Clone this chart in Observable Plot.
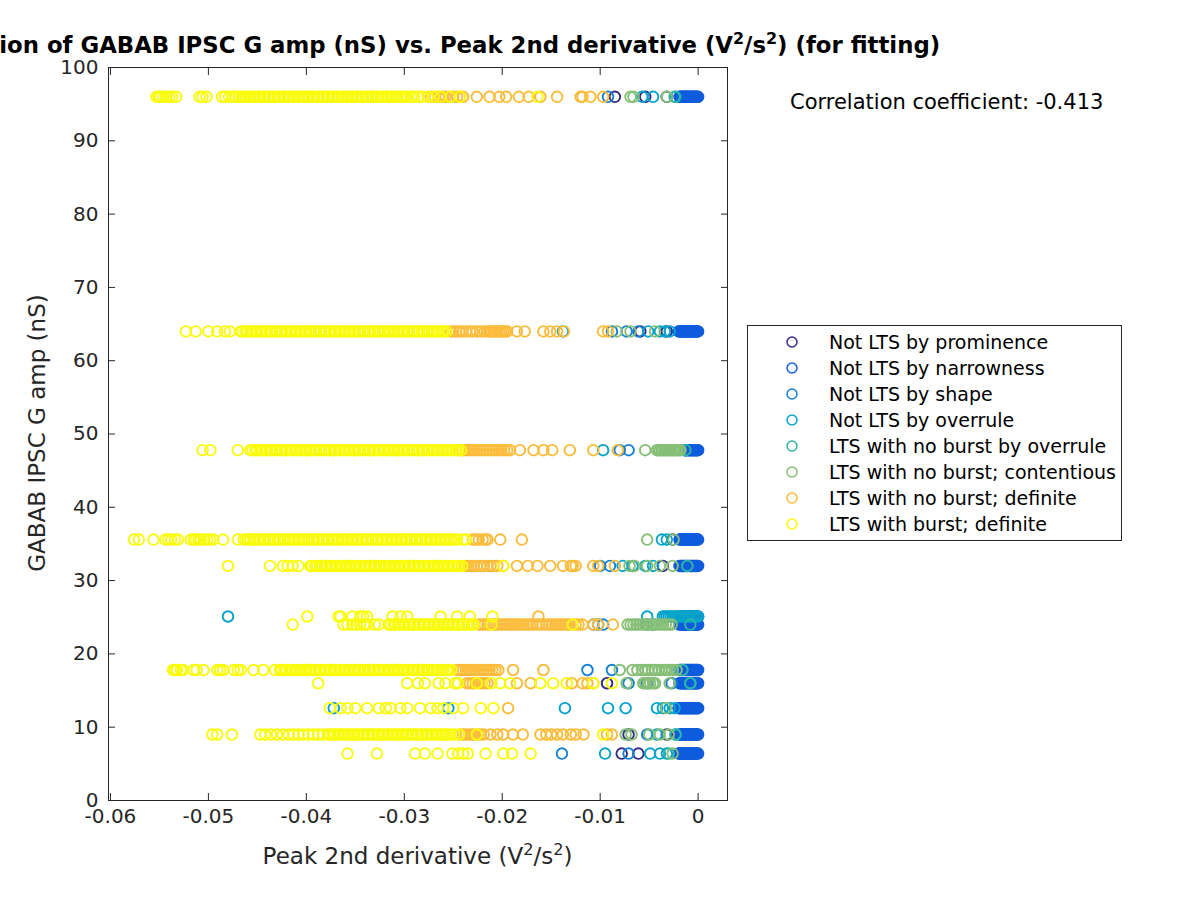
<!DOCTYPE html>
<html><head><meta charset="utf-8">
<script src="https://cdn.jsdelivr.net/npm/d3@7"></script>
<script src="https://cdn.jsdelivr.net/npm/@observablehq/plot@0.6"></script>
<style>
body{margin:0;background:#fff;font-family:"DejaVu Sans",sans-serif;color:#000;}
#wrap{position:relative;width:1200px;height:900px;overflow:hidden;background:#fff;}
#wrap > svg{position:absolute;left:0;top:0;}
.title{position:absolute;left:-500px;width:1835px;top:32px;text-align:center;font-weight:bold;font-size:22.8px;white-space:nowrap;color:#000;}
.xlabel{position:absolute;left:0;width:835px;top:843px;text-align:center;font-size:23px;color:#262626;white-space:nowrap;}
.ylabel{position:absolute;left:37px;top:433px;transform:translate(-50%,-50%) rotate(-90deg);font-size:23px;color:#262626;white-space:nowrap;}
sup{font-size:0.7em;vertical-align:0.55em;line-height:0;}
.annot{position:absolute;left:790px;top:90px;font-size:21px;white-space:nowrap;color:#000;}
.legend{position:absolute;left:747px;top:325px;width:375px;height:216px;border:1px solid #262626;box-sizing:border-box;background:#fff;}
.legend .row{position:absolute;left:0;height:26px;display:flex;align-items:center;font-size:19px;white-space:nowrap;}
#wrap .legend svg{position:static;margin-left:37px;margin-right:30px;flex:none;}
</style></head><body><div id="wrap"></div>
<script>
// Category names and colours
const categories = ["Not LTS by prominence","Not LTS by narrowness","Not LTS by shape","Not LTS by overrule","LTS with no burst by overrule","LTS with no burst; contentious","LTS with no burst; definite","LTS with burst; definite"];
const colors = ["#352a87","#0f5cdd","#1481d6","#06a4ca","#2eb7a4","#87bf77","#fbbc3b","#f9fb0e"];
const xTicks = [-0.06,-0.05,-0.04,-0.03,-0.02,-0.01,0];
const yTicks = [0,10,20,30,40,50,60,70,80,90,100];
const correlation = -0.413;

// Rows: [GABAB IPSC G amp (nS), [peak 2nd derivative values in units of 1e-4 V^2/s^2]]
const prominence = [
  [96,[-85,-54,-32]],
  [64,[-59,-32]],
  [35.6,[-26]],
  [32,[-36]],
  [16,[-93]],
  [9,[-71,-32]],
  [6.4,[-78,-61]]
];
const narrowness = [
  [96,[-19,-18,-17,-16,-15,-14,-13,-12,-11,-10,-9,-8,-7,-6,-5,-4,-3,-2,-1,0]],
  [64,[-20,-19,-18,-17,-16,-15,-14,-13,-12,-11,-10,-9,-8,-7,-6,-5,-4,-3,-2,-1,0]],
  [47.8,[-14,-13,-12,-11,-10,-9,-8,-7,-6,-5,-4,-3,-2,-1,0]],
  [35.6,[-19,-18,-17,-16,-15,-14,-13,-12,-11,-10,-9,-8,-7,-6,-5,-4,-3,-2,-1,0]],
  [32,[-19,-18,-17,-16,-15,-14,-13,-12,-11,-10,-9,-8,-7,-6,-5,-4,-3,-2,-1,0]],
  [25.1,[-18,-17,-16,-15,-14,-13,-12,-11,-10,-9,-8,-7,-6,-5,-4,-3,-2,-1,0]],
  [24,[-19,-18,-17,-16,-15,-14,-13,-12,-11,-10,-9,-8,-7,-6,-5,-4,-3,-2,-1,0]],
  [17.8,[-19,-18,-17,-16,-15,-14,-13,-12,-11,-10,-9,-8,-7,-6,-5,-4,-3,-2,-1,0]],
  [16,[-19,-18,-17,-16,-15,-14,-13,-12,-11,-10,-9,-8,-7,-6,-5,-4,-3,-2,-1,0]],
  [12.6,[-20,-19,-18,-17,-16,-15,-14,-13,-12,-11,-10,-9,-8,-7,-6,-5,-4,-3,-2,-1,0]],
  [9,[-19,-18,-17,-16,-15,-14,-13,-12,-11,-10,-9,-8,-7,-6,-5,-4,-3,-2,-1,0]],
  [6.4,[-20,-19,-18,-17,-16,-15,-14,-13,-12,-11,-10,-9,-8,-7,-6,-5,-4,-3,-2,-1,0]]
];
const shape = [
  [96,[-92]],
  [64,[-88,-73,-61]],
  [47.8,[-80,-71]],
  [32,[-100,-90]],
  [24,[-107,-102,-97]],
  [17.8,[-113,-88]],
  [16,[-71,-52,-27]],
  [9,[-52]],
  [6.4,[-139,-71]]
];
const overrule = [
  [96,[-57,-46,-23]],
  [64,[-138,-51,-39,-34,-29]],
  [47.8,[-97]],
  [35.6,[-37,-32]],
  [32,[-77,-67,-54,-46]],
  [25.1,[-480,-52,-36,-34,-32,-30,-28,-26,-24,-22,-20,-18,-16,-14,-12,-10,-8,-6,-4,-2,0]],
  [24,[-52,-46]],
  [16,[-8]],
  [12.6,[-372,-255,-136,-92,-74,-42,-36,-29,-24]],
  [9,[-42,-23]],
  [6.4,[-95,-49,-39,-32]]
];
const ltsOverrule = [
  [96,[-24]],
  [47.8,[-13]],
  [32,[-11]],
  [24,[-8]],
  [17.8,[-16]],
  [16,[-8]],
  [9,[-23]],
  [6.4,[-30]]
];
const contentious = [
  [96,[-69,-66,-32]],
  [64,[-83,-69,-44]],
  [47.8,[-54,-42,-40,-39,-37,-36,-34,-33,-31,-30,-28,-27,-25,-24,-22,-21,-19,-18]],
  [35.6,[-52,-25]],
  [32,[-70,-65,-52,-39,-26]],
  [24,[-72,-69,-66,-63,-60,-57,-54,-51,-48,-45,-42,-39,-36,-33,-30,-27]],
  [17.8,[-80,-67,-62,-57,-54,-51,-47,-44,-40,-37,-34,-32,-29,-26,-22]],
  [16,[-73,-56,-54,-51,-49,-46,-44,-29]],
  [12.6,[-33]],
  [9,[-74,-68,-50,-39,-30]],
  [6.4,[-26]]
];
const definite = [
  [96,[-273,-269,-265,-261,-258,-254,-250,-246,-243,-240,-226,-213,-203,-196,-183,-173,-161,-144,-120,-118,-110,-97]],
  [64,[-253,-250,-247,-244,-241,-237,-233,-230,-226,-222,-218,-215,-213,-211,-209,-207,-205,-203,-201,-199,-197,-195,-185,-177,-158,-151,-144,-137,-97,-92]],
  [47.8,[-243,-240,-237,-234,-231,-228,-225,-222,-219,-216,-213,-210,-207,-204,-201,-198,-195,-192,-182,-168,-158,-149,-131,-107,-82]],
  [35.6,[-230,-227,-224,-220,-217,-215,-202,-180]],
  [32,[-238,-235,-232,-229,-226,-222,-219,-215,-212,-209,-205,-199,-185,-174,-164,-151,-138,-130,-128,-125,-107,-102,-85]],
  [25.1,[-163]],
  [24,[-224,-221,-218,-215,-212,-208,-205,-202,-199,-196,-193,-190,-187,-184,-181,-178,-175,-172,-169,-165,-162,-159,-155,-152,-149,-146,-143,-140,-137,-134,-131,-128,-125,-122,-118,-107,-102,-87]],
  [17.8,[-246,-243,-240,-237,-234,-231,-228,-225,-222,-219,-216,-213,-210,-207,-204,-189,-158]],
  [16,[-236,-233,-230,-227,-224,-221,-218,-215,-185,-171,-129,-118,-113,-107]],
  [12.6,[-194]],
  [9,[-243,-240,-237,-234,-231,-228,-225,-222,-219,-212,-205,-199,-189,-179,-161,-155,-150,-144,-138,-130,-125,-117,-93,-88]]
];
const burst = [
  [96,[-553,-551,-549,-546,-543,-540,-537,-533,-509,-506,-502,-486,-483,-479,-475,-472,-469,-466,
       -464,-462,-459,-457,-454,-452,-449,-447,-444,-442,-439,-437,-434,-432,-429,-427,-424,-422,-419,-417,-414,-412,-409,-407,-404,-402,-399,-397,-394,-392,-389,-387,-384,-382,-379,-377,-374,-372,-369,-367,-364,-362,-359,-357,-354,-352,-349,-347,-344,-342,-339,-337,-334,-332,-329,-327,-324,-322,-319,-317,-314,-312,-309,-307,-304,-302,-299,-297,
       -293,-290,-286,-282,-276,-270,-263,-253,-243,-164]],
  [64,[-523,-513,-500,-491,-483,-478,
       -467,-465,-462,-460,-457,-455,-452,-450,-447,-445,-442,-440,-437,-435,-432,-430,-427,-425,-422,-420,-417,-415,-412,-410,-407,-405,-402,-400,-397,-395,-392,-390,-387,-385,-382,-380,-377,-375,-372,-370,-367,-365,-362,-360,-357,-355,-352,-350,-347,-345,-342,-340,-337,-335,-332,-330,-327,-325,-322,-320,-317,-315,-312,-310,-307,-305,-302,-300,-297,-295,-292,-290,-287,-285,-282,-280,-277,-275,-272,-270,-267,-265,-262,-260,-257]],
  [47.8,[-506,-498,-470,
       -457,-455,-452,-450,-447,-445,-442,-440,-437,-435,-432,-430,-427,-425,-422,-420,-417,-415,-412,-410,-407,-405,-402,-400,-397,-395,-392,-390,-387,-385,-382,-380,-377,-375,-372,-370,-367,-365,-362,-360,-357,-355,-352,-350,-347,-345,-342,-340,-337,-335,-332,-330,-327,-325,-322,-320,-317,-315,-312,-310,-307,-305,-302,-300,-297,-295,-292,-290,-287,-285,-282,-280,-277,-275,-272,-270,-267,-265,-262,-260,-257,-255,-252,-250,-247,-245,-242]],
  [35.6,[-576,-571,-556,-544,-541,-538,-534,-531,-518,-515,-513,-510,-508,-504,-501,-498,-495,-485,-470,
       -464,-462,-459,-457,-454,-452,-449,-447,-444,-442,-439,-437,-434,-432,-429,-427,-424,-422,-419,-417,-414,-412,-409,-407,-404,-402,-399,-397,-394,-392,-389,-387,-384,-382,-379,-377,-374,-372,-369,-367,-364,-362,-359,-357,-354,-352,-349,-347,-344,-342,-339,-337,-334,-332,-329,-327,-324,-322,-319,-317,-314,-312,-309,-307,-304,-302,-299,-297,-294,-292,-289,-287,-284,-282,-279,-277,-274,-272,-269,-267,-264,-262,-259,-257,-254,-252,-249,-246,
       -240,-237]],
  [32,[-480,-437,-424,-419,-414,-408,
       -396,-394,-391,-389,-386,-384,-381,-379,-376,-374,-371,-369,-366,-364,-361,-359,-356,-354,-351,-349,-346,-344,-341,-339,-336,-334,-331,-329,-326,-324,-321,-319,-316,-314,-311,-309,-306,-304,-301,-299,-296,-294,-291,-289,-286,-284,-281,-279,-276,-274,-271,-269,-266,-264,-261,-259,-256,-254,-251,-249,-246,-244,-241,
       -199]],
  [25.1,[-399,-367,-365,-353,-345,-342,-338,-312,-304,-297,-263,-246,-233,-210]],
  [24,[-414,-362,-358,-353,-349,-345,-341,-338,-330,-326,
       -316,-314,-311,-309,-306,-304,-301,-299,-296,-294,-291,-289,-286,-284,-281,-279,-276,-274,-271,-269,-266,-264,-261,-259,-256,-254,-251,-249,-246,-244,-241,-239,-236,-234,-231,-229,
       -211,-128]],
  [17.8,[-536,-534,-532,-528,-526,-515,-512,-505,-491,-488,-485,-474,-470,-467,-454,-444,-432,
       -427,-425,-422,-420,-417,-415,-412,-410,-407,-405,-402,-400,-397,-395,-392,-390,-387,-385,-382,-380,-377,-375,-372,-370,-367,-365,-362,-360,-357,-355,-352,-350,-347,-345,-342,-340,-337,-335,-332,-330,-327,-325,-322,-320,-317,-315,-312,-310,-307,-305,-302,-300,-297,-295,-292,-290,-287,-285,-282,-280,-277,-275,-272,-270,-267,-265,-262,-260,-257,-255,-252]],
  [16,[-388,-297,-286,-279,-265,-258,-248,-245,-226,-211,-202,-192,-161,-148,-134,-107,-88]],
  [12.6,[-376,-365,-358,-350,-338,-326,-319,-314,-304,-297,-284,-273,-266,-260,-250,-240,-222,-209]],
  [9,[-496,-491,-476,-447,-442,-436,-430,-424,-418,-413,-408,-403,-398,-393,-388,-383,-378,
       -376,-373,-371,-368,-366,-363,-361,-358,-356,-353,-351,-348,-346,-343,-341,-338,-336,-333,-331,-328,-326,-323,-321,-318,-316,-313,-311,-308,-306,-303,-301,-298,-296,-293,-291,-288,-286,-283,-281,-278,-276,-273,-271,-268,-266,-263,-261,-258,-256,-253,
       -249,-244,-226,-97]],
  [6.4,[-358,-328,-289,-279,-266,-251,-245,-240,-235,-217,-199,-190,-171]]
];

const groups = [prominence, narrowness, shape, overrule, ltsOverrule, contentious, definite, burst];
const data = [];
groups.forEach((rows, i) => {
  rows.forEach(([g, xs]) => xs.forEach(v => data.push({x: v / 10000, y: g, cat: categories[i]})));
});

const fmtX = d => d === 0 ? "0" : d.toFixed(2);
const axisColor = "#262626";

const plot = Plot.plot({
  width: 1200,
  height: 900,
  marginLeft: 108,
  marginRight: 473,
  marginTop: 67,
  marginBottom: 100,
  style: {fontFamily: "DejaVu Sans, sans-serif", fontSize: "21px", color: axisColor, background: "transparent", overflow: "visible"},
  x: {domain: [-0.0602, 0.003], label: null},
  y: {domain: [0, 100], label: null},
  color: {domain: categories, range: colors},
  marks: [
    Plot.dot(data, {x: "x", y: "y", stroke: "cat", r: 5.3, strokeWidth: 1.9, fill: "none"}),
    Plot.frame({stroke: axisColor, strokeWidth: 1}),
    Plot.axisX({anchor: "bottom", ticks: xTicks, tickSize: 0, tickPadding: 8, tickFormat: fmtX, label: null, fill: axisColor, fontSize: 20}),
    Plot.axisX({anchor: "bottom", ticks: xTicks, tickSize: -7, tickFormat: () => "", label: null, stroke: axisColor}),
    Plot.axisX({anchor: "top", ticks: xTicks, tickSize: -7, tickFormat: () => "", label: null, stroke: axisColor}),
    Plot.axisY({anchor: "left", ticks: yTicks, tickSize: 0, tickPadding: 10, label: null, fill: axisColor, fontSize: 20}),
    Plot.axisY({anchor: "left", ticks: yTicks, tickSize: -7, tickFormat: () => "", label: null, stroke: axisColor}),
    Plot.axisY({anchor: "right", ticks: yTicks, tickSize: -7, tickFormat: () => "", label: null, stroke: axisColor})
  ]
});

const wrap = document.getElementById("wrap");
wrap.appendChild(plot);

function addDiv(cls, html) {
  const d = document.createElement("div");
  d.className = cls;
  d.innerHTML = html;
  wrap.appendChild(d);
  return d;
}
addDiv("title", "Correlation of GABAB IPSC G amp (nS) vs. Peak 2nd derivative (V<sup>2</sup>/s<sup>2</sup>) (for fitting)");
addDiv("xlabel", "Peak 2nd derivative (V<sup>2</sup>/s<sup>2</sup>)");
addDiv("ylabel", "GABAB IPSC G amp (nS)");
addDiv("annot", "Correlation coefficient: " + correlation.toFixed(3));
const leg = addDiv("legend", "");
categories.forEach((c, i) => {
  const row = document.createElement("div");
  row.className = "row";
  row.style.top = (3 + i * 26) + "px";
  row.innerHTML = `<svg width="14" height="14"><circle cx="7" cy="7" r="5" fill="none" stroke="${colors[i]}" stroke-width="1.5"/></svg><span>${c}</span>`;
  leg.appendChild(row);
});
</script></body></html>
